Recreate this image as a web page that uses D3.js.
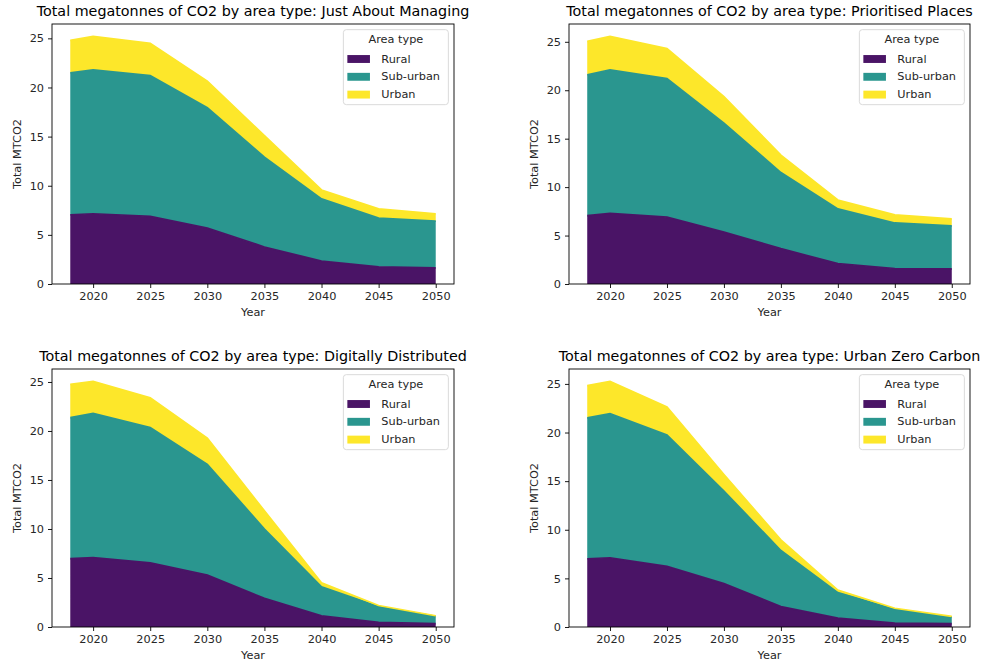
<!DOCTYPE html>
<html>
<head>
<meta charset="utf-8">
<script src="https://cdn.jsdelivr.net/npm/d3@7"></script>
<style>
  body { margin: 0; background: #fff; }
  svg { display: block; font-family: "DejaVu Sans", sans-serif; }
</style>
</head>
<body>
<script>
const years = [2018, 2020, 2025, 2030, 2035, 2040, 2045, 2050];
const areaTypes = ['Rural', 'Sub-urban', 'Urban'];
const scenarios = ['Just About Managing', 'Prioritised Places', 'Digitally Distributed', 'Urban Zero Carbon'];

// MTCO2 per area type
const ruralJAM = [7.05, 7.15, 6.88, 5.70, 3.77, 2.33, 1.75, 1.65];
const suburbanJAM = [14.45, 14.65, 14.32, 12.25, 9.13, 6.33, 4.95, 4.75];
const urbanJAM = [3.30, 3.40, 3.30, 2.70, 2.20, 0.91, 0.95, 0.75];

const ruralPP = [7.06, 7.30, 6.90, 5.36, 3.65, 2.10, 1.60, 1.57];
const suburbanPP = [14.54, 14.80, 14.30, 11.24, 7.85, 5.65, 4.70, 4.43];
const urbanPP = [3.45, 3.46, 3.10, 2.75, 1.80, 0.92, 0.83, 0.72];

const ruralDD = [6.97, 7.08, 6.54, 5.29, 2.93, 1.15, 0.47, 0.34];
const suburbanDD = [14.39, 14.72, 13.81, 11.29, 7.07, 2.95, 1.62, 0.74];
const urbanDD = [3.40, 3.27, 3.03, 2.69, 1.86, 0.41, 0.10, 0.07];

const ruralUZC = [7.02, 7.12, 6.24, 4.48, 2.10, 0.92, 0.41, 0.34];
const suburbanUZC = [14.48, 14.83, 13.50, 9.50, 5.77, 2.61, 1.42, 0.68];
const urbanUZC = [3.33, 3.32, 2.89, 1.69, 1.09, 0.27, 0.10, 0.07];

const xTicks = [2020, 2025, 2030, 2035, 2040, 2045, 2050];
const yTicks = [0, 5, 10, 15, 20, 25];

const width = 985;
const height = 667;
const colors = ['#4a1466', '#2a968f', '#fde72a'];   // viridis-ish, as seen in the picture
const fontSize = 11.3;

const panels = [
    { left: 52, top: 24, w: 402, h: 260, series: [ruralJAM, suburbanJAM, urbanJAM] },
    { left: 569, top: 24, w: 401, h: 260, series: [ruralPP, suburbanPP, urbanPP] },
    { left: 52, top: 369, w: 402, h: 258, series: [ruralDD, suburbanDD, urbanDD] },
    { left: 569, top: 369, w: 401, h: 258, series: [ruralUZC, suburbanUZC, urbanUZC] }
];

const svg = d3.select('body').append('svg')
    .attr('width', width)
    .attr('height', height);

panels.forEach((p, i) => drawPanel(svg, p, scenarios[i]));

function drawPanel(svg, box, scenario) {
    const rows = years.map((yr, i) => {
        const row = { year: yr };
        areaTypes.forEach((k, j) => row[k] = box.series[j][i]);
        return row;
    });
    const stacked = d3.stack().keys(areaTypes)(rows);
    const maxTotal = d3.max(stacked[stacked.length - 1], d => d[1]);

    // matplotlib-like 5% margins, y sticks to 0
    const [x0, x1] = d3.extent(years);
    const pad = (x1 - x0) * 0.05;
    const x = d3.scaleLinear().domain([x0 - pad, x1 + pad]).range([0, box.w]);
    const y = d3.scaleLinear().domain([0, maxTotal * 1.05]).range([box.h, 0]);

    const g = svg.append('g').attr('transform', `translate(${box.left},${box.top})`);

    const area = d3.area()
        .x(d => x(d.data.year))
        .y0(d => y(d[0]))
        .y1(d => y(d[1]));

    const line = d3.line()
        .x(d => x(d.data.year))
        .y(d => y(d[1]));

    g.append('g')
        .selectAll('path')
        .data(stacked)
        .enter().append('path')
        .attr('d', area)
        .attr('fill', (d, i) => colors[i]);

    g.append('g')
        .selectAll('path')
        .data(stacked)
        .enter().append('path')
        .attr('d', line)
        .attr('fill', 'none')
        .attr('stroke', (d, i) => colors[i])
        .attr('stroke-width', 1.7);

    const xAxis = g.append('g')
        .attr('transform', `translate(0,${box.h})`)
        .call(d3.axisBottom(x).tickValues(xTicks).tickFormat(d3.format('d')).tickSize(4).tickPadding(4));
    const yAxis = g.append('g')
        .call(d3.axisLeft(y).tickValues(yTicks).tickSize(4).tickPadding(4));

    [xAxis, yAxis].forEach(a => {
        a.select('.domain').remove();
        a.selectAll('line').attr('stroke', '#000').attr('stroke-width', 0.9);
        a.selectAll('text')
            .attr('fill', '#262626')
            .style('font-size', fontSize + 'px')
            .style('font-family', '"DejaVu Sans", sans-serif');
    });

    // spines
    g.append('rect')
        .attr('width', box.w)
        .attr('height', box.h)
        .attr('fill', 'none')
        .attr('stroke', '#000')
        .attr('stroke-width', 0.9);

    g.append('text')
        .attr('x', box.w / 2)
        .attr('y', -8)
        .attr('text-anchor', 'middle')
        .attr('fill', '#000')
        .style('font-size', '14.3px')
        .text('Total megatonnes of CO2 by area type: ' + scenario);

    g.append('text')
        .attr('x', box.w / 2)
        .attr('y', box.h + 32)
        .attr('text-anchor', 'middle')
        .attr('fill', '#262626')
        .style('font-size', fontSize + 'px')
        .text('Year');

    g.append('text')
        .attr('transform', `translate(-31,${box.h / 2}) rotate(-90)`)
        .attr('text-anchor', 'middle')
        .attr('fill', '#262626')
        .style('font-size', fontSize + 'px')
        .text('Total MTCO2');

    drawLegend(g, box);
}

function drawLegend(g, box) {
    const lw = 105, lh = 75, inset = 5.65;
    const lg = g.append('g')
        .attr('transform', `translate(${box.w - inset - lw},${inset})`);

    lg.append('rect')
        .attr('width', lw)
        .attr('height', lh)
        .attr('rx', 3)
        .attr('fill', '#fff')
        .attr('fill-opacity', 0.8)
        .attr('stroke', '#d6d6d6')
        .attr('stroke-width', 0.9);

    lg.append('text')
        .attr('x', lw / 2)
        .attr('y', 13.5)
        .attr('text-anchor', 'middle')
        .attr('fill', '#262626')
        .style('font-size', fontSize + 'px')
        .text('Area type');

    const item = lg.selectAll('.item')
        .data(areaTypes)
        .enter().append('g')
        .attr('class', 'item')
        .attr('transform', (d, i) => `translate(0,${33 + i * 17.8})`);

    item.append('rect')
        .attr('x', 4)
        .attr('y', -7.6)
        .attr('width', 22.6)
        .attr('height', 7.9)
        .attr('fill', (d, i) => colors[i]);

    item.append('text')
        .attr('x', 38)
        .attr('y', 0)
        .attr('fill', '#262626')
        .style('font-size', fontSize + 'px')
        .text(d => d);
}
</script>
</body>
</html>
